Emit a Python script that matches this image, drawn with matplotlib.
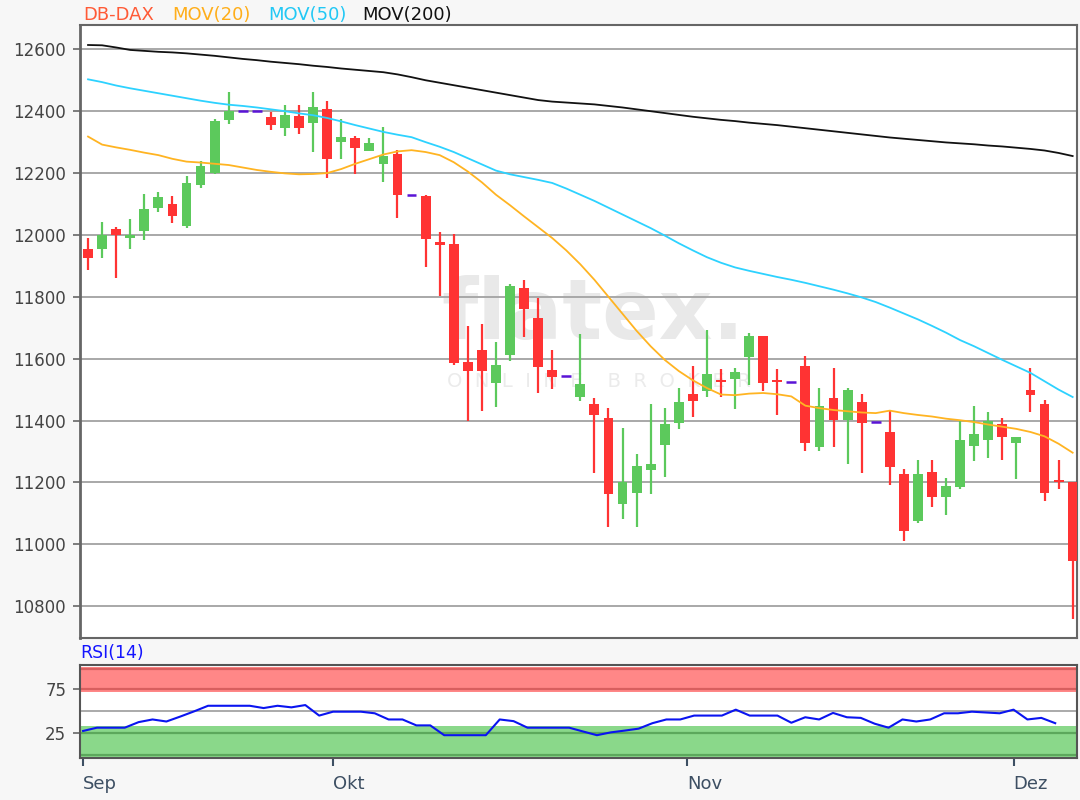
import matplotlib

matplotlib.use("Agg")
import matplotlib.pyplot as plt
import numpy as np

plt.rcParams["font.family"] = "DejaVu Sans"

# ============================================================
# Data (daily candles, Sep - Dez)
# ============================================================
opens = [11956, 11954, 12020, 11991, 12012, 12088, 12099, 12029, 12160, 12201,
         12372, 12400, 12400, 12381, 12346, 12386, 12361, 12408, 12302, 12313,
         12270, 12230, 12261, 12129, 12125, 11976, 11971, 11589, 11627, 11522,
         11611, 11828, 11731, 11562, 11543, 11476, 11454, 11409, 11129, 11167,
         11239, 11320, 11393, 11486, 11497, 11532, 11534, 11605, 11674, 11532,
         11524, 11577, 11315, 11473, 11401, 11460, 11396, 11362, 11228, 11075,
         11233, 11153, 11185, 11318, 11338, 11389, 11327, 11499, 11454, 11209,
         11200]
highs = [11990, 12042, 12027, 12053, 12132, 12138, 12125, 12189, 12238, 12375,
         12461, 12400, 12400, 12399, 12420, 12420, 12461, 12434, 12375, 12319,
         12313, 12349, 12273, 12129, 12128, 12009, 12002, 11707, 11712, 11654,
         11842, 11855, 11796, 11629, 11543, 11680, 11473, 11441, 11376, 11293,
         11454, 11441, 11505, 11577, 11694, 11565, 11570, 11683, 11674, 11565,
         11524, 11610, 11505, 11570, 11505, 11487, 11396, 11433, 11242, 11274,
         11273, 11214, 11397, 11447, 11429, 11408, 11348, 11569, 11465, 11273,
         11200]
lows = [11888, 11926, 11861, 11953, 11985, 12074, 12037, 12023, 12153, 12198,
        12359, 12400, 12400, 12340, 12319, 12327, 12268, 12184, 12244, 12198,
        12270, 12171, 12055, 12129, 11896, 11803, 11580, 11398, 11430, 11444,
        11592, 11670, 11489, 11502, 11543, 11462, 11231, 11056, 11083, 11056,
        11161, 11218, 11373, 11412, 11476, 11476, 11438, 11516, 11495, 11417,
        11524, 11301, 11301, 11315, 11258, 11231, 11396, 11192, 11011, 11070,
        11120, 11094, 11180, 11268, 11279, 11273, 11211, 11429, 11139, 11179,
        10759]
closes = [11927, 11999, 11999, 11999, 12085, 12124, 12062, 12169, 12222, 12369,
          12400, 12400, 12400, 12354, 12388, 12346, 12413, 12244, 12318, 12282,
          12298, 12255, 12128, 12129, 11986, 11968, 11586, 11559, 11559, 11578,
          11836, 11761, 11573, 11541, 11543, 11518, 11419, 11161, 11201, 11253,
          11260, 11389, 11460, 11462, 11552, 11524, 11557, 11674, 11522, 11524,
          11524, 11328, 11448, 11403, 11500, 11393, 11396, 11251, 11043, 11228,
          11153, 11187, 11338, 11357, 11400, 11346, 11348, 11482, 11166, 11200,
          10947]

mov20 = [12318, 12292, 12283, 12275, 12266, 12258, 12246, 12237, 12234, 12230,
         12226, 12218, 12210, 12204, 12199, 12196, 12197, 12200, 12213, 12230,
         12245, 12260, 12270, 12274, 12268, 12258, 12235, 12205, 12170, 12130,
         12096, 12060, 12025, 11990, 11950, 11905, 11855, 11800, 11745, 11690,
         11640, 11596, 11560, 11530, 11505, 11484, 11482, 11487, 11489, 11485,
         11478, 11448, 11440, 11434, 11430, 11426, 11424, 11432, 11424, 11418,
         11413, 11406, 11401, 11395, 11387, 11380, 11373, 11363, 11349, 11325,
         11296]
mov50 = [12503, 12494, 12483, 12474, 12466, 12458, 12450, 12442, 12434, 12427,
         12421, 12417, 12412, 12406, 12400, 12393, 12387, 12378, 12367, 12355,
         12344, 12333, 12324, 12316, 12300, 12285, 12268, 12248, 12228, 12208,
         12196, 12187, 12178, 12168, 12150, 12130, 12110, 12088, 12066, 12044,
         12022, 11998, 11973, 11950, 11928, 11910, 11895, 11884, 11874, 11864,
         11855, 11845, 11834, 11823, 11811, 11798, 11783, 11765, 11746, 11727,
         11706, 11684, 11660, 11640, 11618, 11596, 11575, 11554, 11527, 11500,
         11476]
mov200 = [12614, 12613, 12606, 12598, 12595, 12592, 12590, 12587, 12583, 12579,
          12574, 12569, 12565, 12560, 12556, 12552, 12547, 12543, 12538, 12534,
          12530, 12526, 12519, 12510, 12500, 12492, 12484, 12476, 12468, 12460,
          12452, 12444, 12436, 12431, 12428, 12425, 12422, 12417, 12412, 12406,
          12400, 12394, 12388, 12382, 12377, 12372, 12368, 12363, 12359, 12355,
          12350, 12345, 12340, 12335, 12330, 12325, 12320, 12315, 12311, 12307,
          12303, 12299, 12296, 12293, 12289, 12286, 12282, 12278, 12273, 12265,
          12255]

rsi = [27.6, 31.3, 31.3, 31.3, 37.6, 40.6, 38.3, 43.9, 49.8, 56.1,
       56.1, 56.1, 56.1, 53.5, 56.1, 54.3, 56.9, 45.0, 49.4, 49.4,
       49.4, 47.6, 40.6, 40.6, 33.9, 33.9, 22.8, 22.8, 22.8, 22.8,
       40.6, 38.7, 31.3, 31.3, 31.3, 31.3, 27.0, 22.8, 26.0, 28.0,
       30.2, 36.4, 40.6, 40.6, 45.0, 45.0, 45.0, 51.7, 45.0, 45.0,
       45.0, 36.9, 43.1, 40.6, 48.0, 43.1, 42.4, 35.8, 31.3, 40.6,
       38.3, 40.6, 47.6, 47.6, 49.4, 48.5, 47.6, 51.7, 40.6, 42.4,
       36.4]

price_ticks = [10800, 11000, 11200, 11400, 11600, 11800, 12000, 12200, 12400, 12600]
month_pos = [0, 18, 43.5, 67]
month_labels = ["Sep", "Okt", "Nov", "Dez"]

# ============================================================
# Figure
# ============================================================
fig = plt.figure(figsize=(10.8, 8), dpi=100, facecolor="#f7f7f7")
ax = fig.add_axes([0.0741, 0.2025, 0.923, 0.766])
ax_rsi = fig.add_axes([0.0741, 0.0525, 0.923, 0.116])

up_col = "#5cc95c"
down_col = "#ff3333"
flat_col = "#5a14d6"

x = np.arange(len(opens))
o = np.array(opens)
h = np.array(highs)
l = np.array(lows)
c = np.array(closes)
flat = o == c
up = (c > o) & ~flat
down = (c < o) & ~flat

# watermark
ax.text(0.515, 0.488, "flatex.", transform=ax.transAxes, ha="center", va="baseline",
        fontsize=60, fontweight="bold", color="#e9e9e9", zorder=0.5)
ax.text(0.52, 0.41, "O  N  L  I  N  E    B  R  O  K  E  R", transform=ax.transAxes,
        ha="center", va="baseline", fontsize=14, color="#ebebeb", zorder=0.5)

for p in price_ticks:
    ax.axhline(p, color="#a8a8a8", linewidth=1.4, zorder=1)

# wicks
ax.vlines(x[up], l[up], h[up], color=up_col, linewidth=1.6, zorder=3)
ax.vlines(x[down], l[down], h[down], color=down_col, linewidth=1.6, zorder=3)
# bodies
ax.bar(x[up], c[up] - o[up], bottom=o[up], width=0.7, color=up_col, zorder=4)
ax.bar(x[down], o[down] - c[down], bottom=c[down], width=0.7, color=down_col, zorder=4)
ax.hlines(c[flat], x[flat] - 0.35, x[flat] + 0.35, color=flat_col, linewidth=1.8, zorder=4)

ax.plot(x, mov200, color="#111111", linewidth=1.3, zorder=5)
ax.plot(x, mov50, color="#2dd2ff", linewidth=1.3, zorder=5)
ax.plot(x, mov20, color="#ffb422", linewidth=1.3, zorder=5)

ax.set_xlim(-0.57, 70.3)
ax.set_ylim(10697, 12678)
ax.set_yticks(price_ticks)
ax.set_yticklabels([str(p) for p in price_ticks])
ax.set_xticks([])
ax.tick_params(axis="y", direction="out", length=5, width=1.2, color="#666666",
               labelsize=12, labelcolor="#444444", pad=5)
for s in ax.spines.values():
    s.set_color("#666666")
    s.set_linewidth(1.5)
ax.spines["left"].set_linewidth(2)

# legend-like header
fig.text(83 / 1080, 1 - 20 / 800, "DB-DAX", color="#ff5a36", fontsize=13, va="baseline")
fig.text(172 / 1080, 1 - 20 / 800, "MOV(20)", color="#ffae1a", fontsize=13, va="baseline")
fig.text(268 / 1080, 1 - 20 / 800, "MOV(50)", color="#22c8f5", fontsize=13, va="baseline")
fig.text(362 / 1080, 1 - 20 / 800, "MOV(200)", color="#111111", fontsize=13, va="baseline")

# ============================================================
# RSI panel
# ============================================================
ax_rsi.set_facecolor("white")
ax_rsi.axhspan(72, 100, color="#ff8787", zorder=1, linewidth=0)
ax_rsi.axhline(75, color="#d85f5f", linewidth=1.6, zorder=2)
ax_rsi.axhline(98, color="#d85f5f", linewidth=1.6, zorder=2)
ax_rsi.axhspan(-3, 33, color="#8ad88a", zorder=1, linewidth=0)
ax_rsi.axhline(25, color="#5ca85c", linewidth=1.6, zorder=2)
ax_rsi.axhline(0.5, color="#5ca85c", linewidth=1.6, zorder=2)
ax_rsi.axhline(50, color="#aaaaaa", linewidth=1.4, zorder=2)
ax_rsi.plot(np.arange(len(rsi)), rsi, color="#0a14f0", linewidth=1.5, zorder=3)

ax_rsi.set_xlim(-0.22, 71.56)
ax_rsi.set_ylim(-3, 102)
ax_rsi.set_yticks([25, 75])
ax_rsi.set_yticklabels(["25", "75"])
ax_rsi.set_xticks(month_pos)
ax_rsi.set_xticklabels(month_labels, ha="left")
ax_rsi.tick_params(axis="y", direction="out", length=5, width=1.2, color="#666666",
                   labelsize=12, labelcolor="#444444", pad=5)
ax_rsi.tick_params(axis="x", direction="out", length=6, width=1.5, color="#3d4f63",
                   labelsize=13, labelcolor="#3d4f63", pad=6)
for s in ax_rsi.spines.values():
    s.set_color("#555555")
    s.set_linewidth(1.5)
ax_rsi.text(0.0, 1.03, "RSI(14)", transform=ax_rsi.transAxes, color="#1414ff",
            fontsize=12.5, va="bottom", ha="left")

fig.savefig("out.png", dpi=100, facecolor=fig.get_facecolor())
